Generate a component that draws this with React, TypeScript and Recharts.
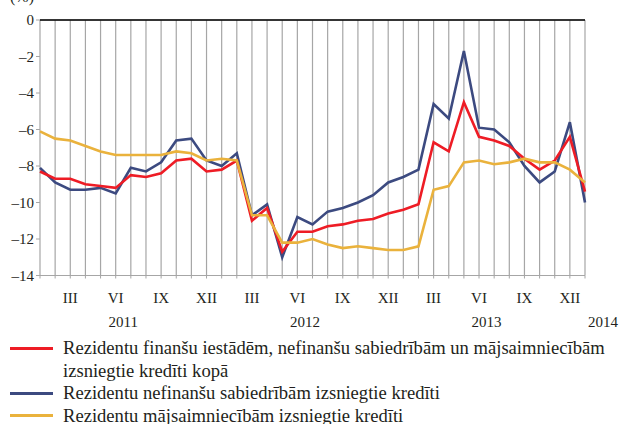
import { LineChart, Line, XAxis, YAxis, CartesianGrid, ReferenceLine } from 'recharts'

// month index 0 = 2011-01, 36 = 2014-01
const monthLabels = [
  '', '', 'III', '', '', 'VI', '', '', 'IX', '', '', 'XII',
  '', '', 'III', '', '', 'VI', '', '', 'IX', '', '', 'XII',
  '', '', 'III', '', '', 'VI', '', '', 'IX', '', '', 'XII',
  '',
]
const yearLabels = ['2011', '2012', '2013', '2014']
const yearPositions = [5.5, 17.5, 29.5, 36]

const totalLoans = [
  -8.3, -8.7, -8.7, -9.0, -9.1, -9.2, -8.5, -8.6, -8.4, -7.7, -7.6, -8.3,
  -8.2, -7.7, -11.0, -10.3, -12.7, -11.6, -11.6, -11.3, -11.2, -11.0, -10.9, -10.6,
  -10.4, -10.1, -6.7, -7.2, -4.5, -6.4, -6.6, -6.9, -7.6, -8.2, -7.7, -6.4,
  -9.4,
]
const corporateLoans = [
  -8.1, -8.9, -9.3, -9.3, -9.2, -9.5, -8.1, -8.3, -7.8, -6.6, -6.5, -7.7,
  -8.0, -7.3, -10.7, -10.1, -13.0, -10.8, -11.2, -10.5, -10.3, -10.0, -9.6, -8.9,
  -8.6, -8.2, -4.6, -5.4, -1.7, -5.9, -6.0, -6.7, -8.0, -8.9, -8.3, -5.6,
  -10.0,
]
const householdLoans = [
  -6.1, -6.5, -6.6, -6.9, -7.2, -7.4, -7.4, -7.4, -7.4, -7.2, -7.3, -7.7,
  -7.6, -7.7, -10.7, -10.7, -12.2, -12.2, -12.0, -12.3, -12.5, -12.4, -12.5, -12.6,
  -12.6, -12.4, -9.3, -9.1, -7.8, -7.7, -7.9, -7.8, -7.6, -7.8, -7.8, -8.2,
  -8.9,
]
const yTicks = [-14, -12, -10, -8, -6, -4, -2, 0]

const seriesNames = [
  'Rezidentu finanšu iestādēm, nefinanšu sabiedrībām un mājsaimniecībām',
  'izsniegtie kredīti kopā',
  'Rezidentu nefinanšu sabiedrībām izsniegtie kredīti',
  'Rezidentu mājsaimniecībām izsniegtie kredīti',
]

const RED = '#ee1c25'
const BLUE = '#3c4a80'
const YELLOW = '#eab23c'
const TEXT = '#231f20'
const FONT = '"Liberation Serif", "Times New Roman", serif'

const data = monthLabels.map((label, i) => ({
  i,
  label,
  total: totalLoans[i],
  corporate: corporateLoans[i],
  household: householdLoans[i],
}))

const fmt = (v: number) => (v < 0 ? `–${Math.abs(v)}` : `${v}`)

function MonthTick({ x, payload }: any) {
  const label = monthLabels[payload.value]
  if (!label) return null
  return (
    <text x={x} y={303} textAnchor="middle" fontSize={15} fontFamily={FONT} fill={TEXT}>
      {label}
    </text>
  )
}

function LeftTick({ x, y, payload }: any) {
  return (
    <text x={x} y={y + 5} textAnchor="end" fontSize={15} fontFamily={FONT} fill={TEXT}>
      {fmt(payload.value)}
    </text>
  )
}

function RightTick({ x, y, payload }: any) {
  return (
    <text x={x + 25} y={y + 5} textAnchor="end" fontSize={15} fontFamily={FONT} fill={TEXT}>
      {fmt(payload.value)}
    </text>
  )
}

function YearLabel({ viewBox, value, last }: any) {
  return (
    <text
      x={last ? viewBox.x + 3 : viewBox.x}
      y={327}
      textAnchor={last ? 'start' : 'middle'}
      fontSize={15}
      fontFamily={FONT}
      fill={TEXT}
    >
      {value}
    </text>
  )
}

function LegendRow({ color, children, noLine }: any) {
  return (
    <div style={{ display: 'flex', alignItems: 'center', height: 22.5 }}>
      <div style={{ width: 43, height: 3, marginLeft: 10, marginRight: 10, background: noLine ? 'transparent' : color }} />
      <span>{children}</span>
    </div>
  )
}

export default function App() {
  return (
    <div style={{ position: 'absolute', left: 0, top: 0, width: 619, height: 424, background: '#fff', overflow: 'hidden' }}>
      <svg style={{ position: 'absolute', left: 0, top: 0 }} width={60} height={10}>
        <text x={10} y={2} fontSize={16} fontFamily={FONT} fill={TEXT}>(%)</text>
      </svg>
      <LineChart
        width={619}
        height={330}
        data={data}
        margin={{ top: 20, right: 0, bottom: 0, left: 0 }}
      >
        <CartesianGrid stroke="#a6a6a6" strokeWidth={1.2} />
        <XAxis
          dataKey="i"
          type="number"
          domain={[0, 36]}
          ticks={data.map((d) => d.i)}
          interval={0}
          height={54.5}
          axisLine={false}
          tickLine={{ stroke: '#a6a6a6' }}
          tickSize={3}
          tick={<MonthTick />}
        />
        <YAxis
          yAxisId="left"
          width={40}
          domain={[-14, 0]}
          ticks={yTicks}
          axisLine={false}
          tickLine={{ stroke: '#a6a6a6' }}
          tickSize={4}
          tickMargin={2}
          tick={<LeftTick />}
        />
        <YAxis
          yAxisId="right"
          orientation="right"
          width={34}
          domain={[-14, 0]}
          ticks={yTicks}
          axisLine={false}
          tickLine={{ stroke: '#a6a6a6' }}
          tickSize={4}
          tickMargin={2}
          tick={<RightTick />}
        />
        <ReferenceLine yAxisId="left" y={0} stroke="#000" strokeWidth={1.3} />
        {yearLabels.map((year, k) => (
          <ReferenceLine
            key={year}
            yAxisId="left"
            x={yearPositions[k]}
            stroke="none"
            label={<YearLabel value={year} last={k === yearLabels.length - 1} />}
          />
        ))}
        <Line yAxisId="left" dataKey="corporate" stroke={BLUE} strokeWidth={2.6} dot={false} isAnimationActive={false} strokeLinejoin="miter" />
        <Line yAxisId="left" dataKey="total" stroke={RED} strokeWidth={2.6} dot={false} isAnimationActive={false} strokeLinejoin="miter" />
        <Line yAxisId="left" dataKey="household" stroke={YELLOW} strokeWidth={2.6} dot={false} isAnimationActive={false} strokeLinejoin="miter" />
      </LineChart>
      <div style={{ position: 'absolute', left: 0, top: 337, fontFamily: FONT, fontSize: 18.6, color: TEXT, lineHeight: '22.5px', whiteSpace: 'nowrap' }}>
        <LegendRow color={RED}>{seriesNames[0]}</LegendRow>
        <LegendRow noLine>{seriesNames[1]}</LegendRow>
        <LegendRow color={BLUE}>{seriesNames[2]}</LegendRow>
        <LegendRow color={YELLOW}>{seriesNames[3]}</LegendRow>
      </div>
    </div>
  )
}
